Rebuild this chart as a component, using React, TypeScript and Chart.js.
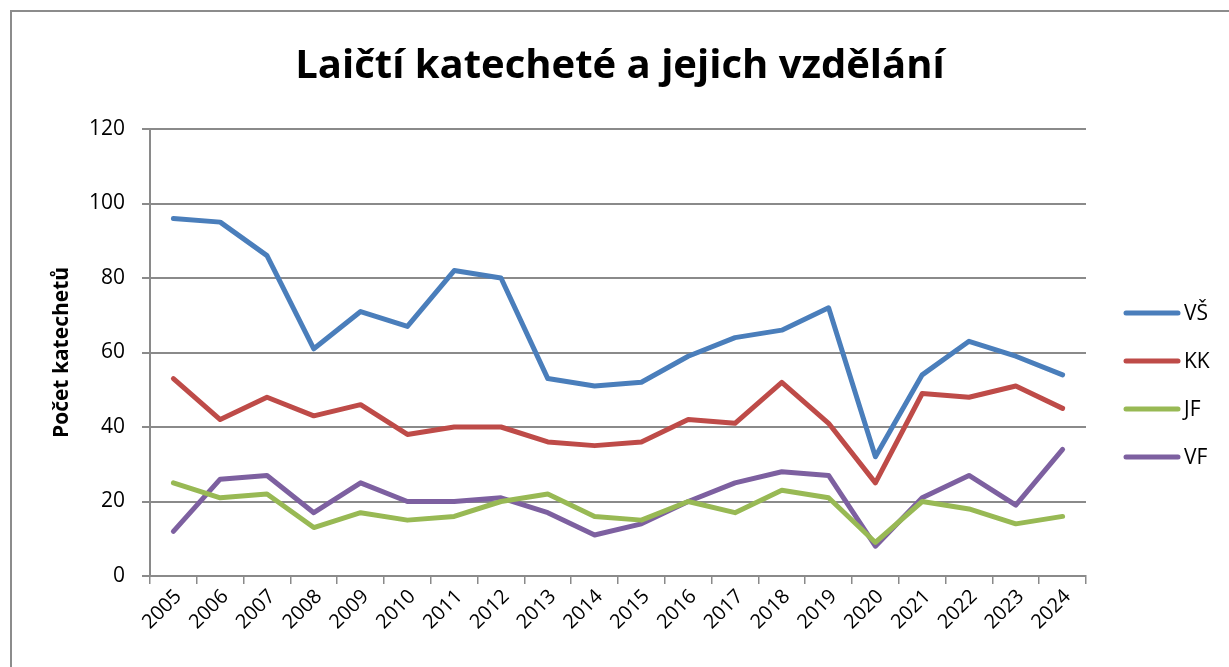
import React, { useEffect, useRef } from 'react';
import { Chart, registerables } from 'chart.js';

Chart.register(...registerables);

const years = ['2005', '2006', '2007', '2008', '2009', '2010', '2011', '2012', '2013', '2014', '2015', '2016', '2017', '2018', '2019', '2020', '2021', '2022', '2023', '2024'];
const vsValues = [96, 95, 86, 61, 71, 67, 82, 80, 53, 51, 52, 59, 64, 66, 72, 32, 54, 63, 59, 54];
const kkValues = [53, 42, 48, 43, 46, 38, 40, 40, 36, 35, 36, 42, 41, 52, 41, 25, 49, 48, 51, 45];
const jfValues = [25, 21, 22, 13, 17, 15, 16, 20, 22, 16, 15, 20, 17, 23, 21, 9, 20, 18, 14, 16];
const vfValues = [12, 26, 27, 17, 25, 20, 20, 21, 17, 11, 14, 20, 25, 28, 27, 8, 21, 27, 19, 34];
const seriesNames = ['VŠ', 'KK', 'JF', 'VF'];
const seriesColors = ['#4A7EBB', '#BE4B48', '#98B954', '#7D60A0'];
const chartTitle = 'Laičtí katecheté a jejich vzdělání';
const yAxisTitle = 'Počet katechetů';
const yMin = 0;
const yMax = 120;
const yStep = 20;

const FONT = '"Open Sans", "DejaVu Sans", sans-serif';
const GRID = '#8a8a8a';

const overlayPlugin = {
  id: 'overlay',
  afterDraw(chart: any) {
    const { ctx, chartArea } = chart;
    ctx.save();
    // title
    ctx.fillStyle = '#000';
    ctx.font = `bold 40px ${FONT}`;
    ctx.textAlign = 'center';
    ctx.textBaseline = 'middle';
    ctx.fillText(chartTitle, 620, 67);
    // legend
    const ds = chart.data.datasets;
    const lx = chartArea.right + 40;
    const ly0 = 313;
    ctx.font = `21px ${FONT}`;
    ctx.textAlign = 'left';
    ds.forEach((d: any, i: number) => {
      const y = ly0 + i * 48;
      ctx.strokeStyle = d.borderColor;
      ctx.lineWidth = 5;
      ctx.lineCap = 'round';
      ctx.beginPath();
      ctx.moveTo(lx, y);
      ctx.lineTo(lx + 52, y);
      ctx.stroke();
      ctx.fillStyle = '#000';
      ctx.fillText(d.label, lx + 58, y + 1);
    });
    ctx.restore();
  },
};

export default function App() {
  const ref = useRef<HTMLCanvasElement | null>(null);
  useEffect(() => {
    if (!ref.current) return;
    const values = [vsValues, kkValues, jfValues, vfValues];
    const chart = new Chart(ref.current, {
      type: 'line',
      data: {
        labels: years,
        datasets: values.map((v, i) => ({
          label: seriesNames[i],
          data: v,
          borderColor: seriesColors[i],
          backgroundColor: seriesColors[i],
          borderWidth: 5,
          borderCapStyle: 'round',
          borderJoinStyle: 'round',
          pointRadius: 0,
          pointHoverRadius: 0,
          tension: 0,
          fill: false,
        })),
      },
      options: {
        animation: false,
        responsive: false,
        maintainAspectRatio: false,
        layout: { padding: { left: 0, right: 143, top: 129, bottom: 0 } },
        plugins: {
          legend: { display: false },
          title: { display: false },
          tooltip: { enabled: false },
        },
        scales: {
          x: {
            type: 'category',
            offset: true,
            grid: {
              offset: true,
              drawOnChartArea: false,
              drawTicks: true,
              tickLength: 8,
              color: GRID,
              lineWidth: 1.5,
            },
            border: { display: true, color: GRID, width: 2 },
            ticks: {
              autoSkip: false,
              maxRotation: 45,
              minRotation: 45,
              padding: 1,
              labelOffset: 5,
              color: '#000',
              font: { family: FONT, size: 20 },
            },
            afterFit(scale: any) {
              scale.height = 91;
            },
          },
          y: {
            min: yMin,
            max: yMax,
            ticks: {
              stepSize: yStep,
              padding: 17,
              color: '#000',
              font: { family: FONT, size: 21 },
            },
            grid: {
              color: GRID,
              lineWidth: 2,
              drawTicks: true,
              tickLength: 8,
            },
            border: { display: true, color: GRID, width: 2 },
            title: {
              display: true,
              text: yAxisTitle,
              color: '#000',
              font: { family: FONT, size: 21, weight: 'bold' },
              padding: { top: 49, bottom: 0 },
            },
            afterFit(scale: any) {
              scale.width = 150;
            },
          },
        },
      },
      plugins: [overlayPlugin],
    });
    return () => chart.destroy();
  }, []);

  return (
    <div style={{ position: 'fixed', left: 0, top: 0, width: 1229, height: 667, background: '#fff', overflow: 'hidden' }}>
      <div
        style={{
          position: 'absolute',
          left: 10,
          top: 10,
          width: 1400,
          height: 900,
          borderTop: '2px solid #8c8c8c',
          borderLeft: '2px solid #8c8c8c',
        }}
      />
      <canvas ref={ref} width={1229} height={667} style={{ position: 'absolute', left: 0, top: 0, width: 1229, height: 667 }} />
    </div>
  );
}
